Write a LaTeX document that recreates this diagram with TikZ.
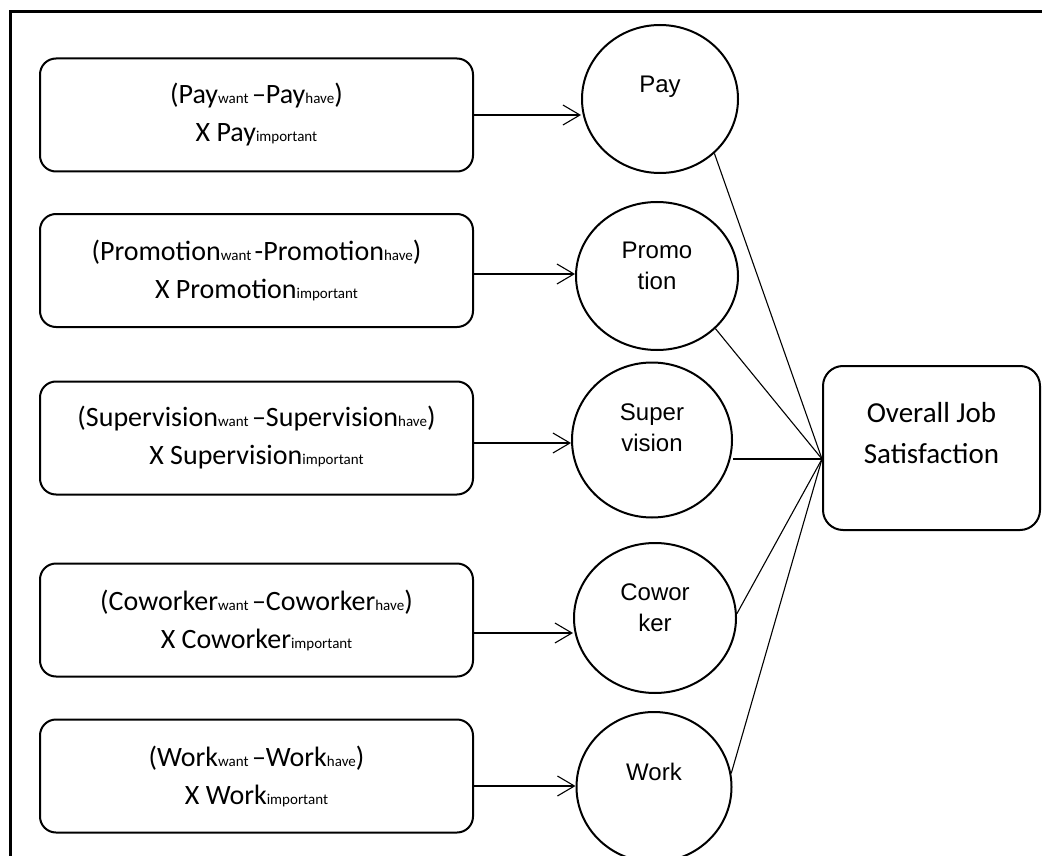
\documentclass[tikz,border=0pt]{standalone}
\usepackage{fontspec}
\setmainfont{Carlito}
\newfontfamily\arialface{Liberation Sans}
\usetikzlibrary{shapes.geometric,arrows.meta}

% small index-like words set on the baseline
\newcommand{\idx}[1]{{\fontsize{15}{15}\selectfont #1}}

\begin{document}
\begin{tikzpicture}[x=1pt,y=-1pt,
  termbox/.style={draw,line width=2pt,rounded corners=16pt,minimum width=433pt,
    minimum height=113pt,inner sep=0pt,align=center,font=\fontsize{28}{38}\selectfont},
  facet/.style={draw,line width=2pt,ellipse,minimum width=160pt,minimum height=150pt,inner sep=0pt},
  facettext/.style={align=center,inner sep=0pt,font=\arialface\fontsize{24}{31}\selectfont},
  outcome/.style={draw,line width=2pt,rounded corners=20pt,minimum width=217pt,
    minimum height=164pt,inner sep=0pt},
  outcometext/.style={align=center,inner sep=0pt,font=\fontsize{29}{41}\selectfont},
  arr/.style={line width=1.1pt,-{Straight Barb[length=17pt,width=20pt,line width=1.1pt]}},
  link/.style={line width=1.1pt}]

\useasboundingbox (0,0) rectangle (1042,856);
\clip (0,0) rectangle (1042,856);

% outer frame (runs past the page on the right and bottom)
\draw[line width=3pt] (10.5,900) -- (10.5,11.5) -- (1100,11.5);

% discrepancy terms
\node[termbox] (b1) at (256.5,115) {(Pay\idx{want }–Pay\idx{have})\\X Pay\idx{important}};
\node[termbox] (b2) at (256.5,270.5) {(Promotion\idx{want }-Promotion\idx{have})\\X Promotion\idx{important}};
\node[termbox] (b3) at (256.5,438) {(Supervision\idx{want }–Supervision\idx{have})\\X Supervision\idx{important}};
\node[termbox] (b4) at (256.5,620) {(Coworker\idx{want }–Coworker\idx{have})\\X Coworker\idx{important}};
\node[termbox] (b5) at (256.5,776) {(Work\idx{want }–Work\idx{have})\\X Work\idx{important}};

% facets
\node[facet,minimum width=156pt,minimum height=148pt] (c1) at (660,99) {};
\node[facet,minimum width=162pt,minimum height=148pt] (c2) at (657,276) {};
\node[facet,minimum width=160pt,minimum height=155pt] (c3) at (652,440) {};
\node[facet,minimum width=162pt,minimum height=150pt] (c4) at (655,618) {};
\node[facet,minimum width=155pt,minimum height=150pt] (c5) at (654,787) {};

\node[facettext] (t1) at ([yshift=12pt]c1.center) {Pay};
\node[facettext] (t2) at ([yshift=10pt]c2.center) {Promo\\tion};
\node[facettext] (t3) at ([yshift=12pt]c3.center) {Super\\vision};
\node[facettext] (t4) at ([yshift=10pt]c4.center) {Cowor\\ker};
\node[facettext] (t5) at ([yshift=15pt]c5.center) {Work};

% outcome
\node[outcome] (ojs) at (931.5,448) {};
\node[outcometext] (ojst) at ([yshift=15pt]ojs.center) {Overall Job\\Satisfaction};
\coordinate (hub) at ([yshift=-11pt]ojs.west);

% term -> facet
\draw[arr] (b1.east) -- (b1.east -| c1.west);
\draw[arr] ([yshift=-3.5pt]b2.east) -- ([yshift=-3.5pt]b2.east -| c2.west);
\draw[arr] ([yshift=-5pt]b3.east) -- ([yshift=-5pt]b3.east -| c3.west);
\draw[arr] ([yshift=-13pt]b4.east) -- ([yshift=-13pt]b4.east -| c4.west);
\draw[arr] ([yshift=-10pt]b5.east) -- ([yshift=-10pt]b5.east -| c5.west);

% facet -> overall satisfaction
\draw[link] (c1.-45) -- (hub);
\draw[link] (c2.-42) -- (hub);
\draw[link] (c3.east |- hub) -- (hub);
\draw[link] (c4.3) -- (hub);
\draw[link] (c5.10) -- (hub);
\end{tikzpicture}
\end{document}
